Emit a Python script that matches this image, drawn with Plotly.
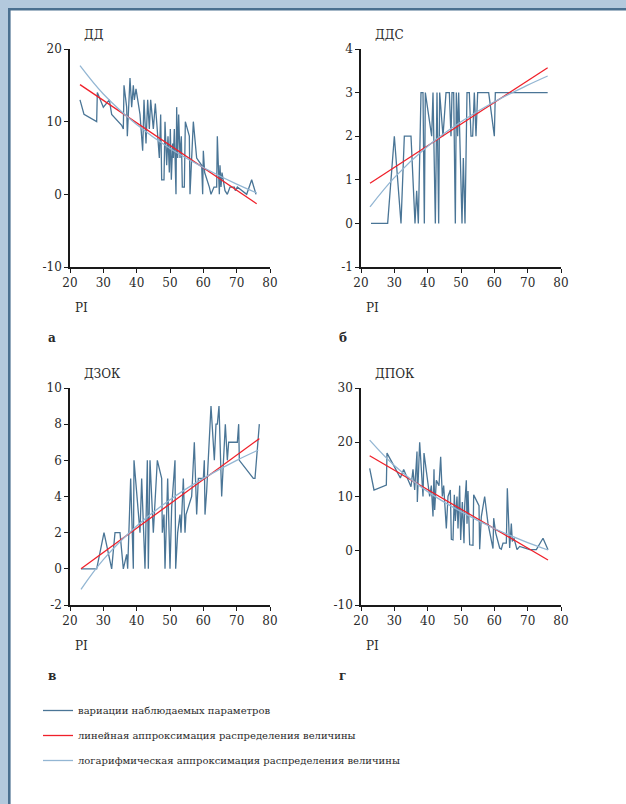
import plotly.graph_objects as go

# ---------------- data ----------------
panel_titles = ["ДД", "ДДС", "ДЗОК", "ДПОК"]
panel_letters = ["а", "б", "в", "г"]
x_title = "PI"
legend_names = ["вариации наблюдаемых параметров",
                "линейная аппроксимация распределения величины",
                "логарифмическая аппроксимация распределения величины"]

# ДД
a_pi = [23, 24.2, 28, 28.2, 30, 31.8, 32.5, 35.5, 36, 36.2,
        37, 37.2, 38, 38.5, 39, 39.3, 39.8, 41, 41.8, 42.2,
        42.8, 43.3, 43.8, 44.2, 45, 45.6, 46.8, 47.2, 47.5, 48.2,
        48.5, 49, 49.4, 49.8, 50.1, 50.4, 50.8, 51, 51.3, 51.8,
        52, 52.3, 52.6, 53, 53.4, 53.7, 54.3, 54.6, 55.8, 56,
        57, 57.6, 58, 59.5, 59.8, 60, 60.4, 61.8, 62.3, 63.2,
        64, 64.2, 64.8, 65, 65.3, 65.6, 66, 66.5, 67.2, 68,
        69.3, 69.6, 70.2, 73, 74.5, 75.8]
a_val = [13, 11, 10, 14, 12, 13, 11, 9.5, 9, 15,
         12, 8, 16, 12, 15, 13, 14.5, 11, 6, 13,
         7, 13, 9, 13, 9, 12.5, 5, 11, 2, 2,
         10, 4, 8, 3, 9, 2, 7, 5, 9, 0,
         12, 5, 11, 5, 8, 1, 1, 10, 8, 0,
         10, 7, 5, 4, 0, 6, 3, 1, 0, 1,
         1, 8, 0, 4, 1, 3, 2, 0.5, 0, 1,
         1, 0.5, 1, 0, 2, 0]
a_lin_x = [23, 76]
a_lin_y = [15.1, -1.3]
a_log_x = [23, 30, 40, 50, 60, 70, 76]
a_log_y = [17.7, 13.8, 9.6, 6.3, 3.7, 1.4, 0.2]

# ДДС
b_pi = [23, 28, 30, 32, 33, 35, 36.2, 36.7, 37.2, 38,
        38.6, 39, 39.3, 41.2, 41.6, 42.3, 42.8, 43.3, 43.6, 44.6,
        45.5, 46.5, 47, 47.3, 47.8, 48.3, 48.6, 49, 49.3, 49.7,
        50.3, 50.7, 51.2, 51.8, 52.5, 53, 53.5, 54, 54.5, 55,
        58.3, 60, 60.3, 76]
b_val = [0, 0, 2, 0, 2, 2, 0, 0.75, 0, 3,
         3, 0, 3, 2, 3, 0, 3, 0, 3, 2,
         3, 3, 2, 3, 3, 0, 3, 2, 3, 2,
         0, 1.5, 0, 3, 3, 2, 2, 3, 2, 3,
         3, 2, 3, 3]
b_lin_x = [22.7, 76]
b_lin_y = [0.92, 3.57]
b_log_x = [22.7, 30, 40, 50, 60, 70, 76]
b_log_y = [0.38, 1.05, 1.77, 2.33, 2.79, 3.17, 3.38]

# ДЗОК
c_pi = [23.3, 28, 30.2, 32.5, 33.5, 35, 36, 37, 37.3, 38.2,
        39, 39.2, 41, 41.5, 42.5, 43.2, 43.5, 44, 45, 46.2,
        47.5, 47.7, 48.2, 48.5, 49.3, 50, 50.5, 51.5, 51.7, 52.3,
        53, 53.3, 54, 54.5, 54.8, 56.5, 57.3, 58, 58.5, 60,
        60.3, 60.5, 61, 62.3, 63.3, 63.8, 64.2, 64.7, 65.5, 66.6,
        67.2, 67.6, 70.2, 70.6, 70.8, 75, 75.5, 76.5, 76.8]
c_val = [0, 0, 2, 0, 2, 2, 0, 0.8, 0, 5,
         0, 6, 2, 5, 0, 6, 0, 6, 2, 6,
         5, 2, 3, 0, 5, 0, 3.4, 6, 0, 2,
         3, 2, 5, 2, 3, 4, 7, 3, 5, 5,
         6, 3, 4.3, 9, 6, 8, 8, 9, 4, 8,
         6, 7, 7, 8, 6, 5, 5, 7, 8]
c_lin_x = [23.3, 76.8]
c_lin_y = [0, 7.2]
c_log_x = [23.3, 30, 40, 50, 60, 70, 76.5]
c_log_y = [-1.13, 0.51, 2.37, 3.82, 5.0, 6.0, 6.57]

# ДПОК
d_pi = [22.6, 23.9, 27.6, 27.8, 30, 31.8, 32.8, 35, 35.6, 36.1,
        36.8, 36.9, 37.6, 38.6, 38.9, 40.6, 41.1, 41.6, 41.9, 42.1,
        42.6, 43.4, 43.9, 44.4, 44.8, 45.6, 46.1, 46.8, 47.1, 47.6,
        48, 48.3, 48.8, 49.1, 49.6, 49.9, 50.4, 50.9, 51.1, 51.6,
        51.8, 52.1, 52.6, 53.6, 53.8, 55.4, 55.6, 56.1, 57.1, 58.1,
        59.6, 59.8, 60.4, 61.6, 62.1, 62.6, 63.6, 63.9, 64.6, 65.1,
        65.4, 65.9, 66.8, 67.6, 70.6, 72.6, 74.6, 76.1]
d_val = [15.2, 11.2, 12.1, 18, 15.5, 13.4, 15, 11.8, 15, 11.2,
         18.3, 9, 20, 10, 18, 10, 12, 6.3, 15, 7.5,
         13, 12, 17.3, 10, 12, 4.1, 10, 11.2, 2.1, 2,
         10.3, 5.5, 10, 4.1, 12, 2, 9, 1.4, 8.2, 13,
         5, 11, 1.1, 1, 10.3, 8.3, 0.3, 6.3, 10, 5,
         0.4, 6, 3.3, 0.5, 0.3, 1.4, 1.4, 11.5, 0.5, 5,
         1.7, 2.3, 0.2, 0.8, 0.2, 0.2, 2.3, 0.2]
d_lin_x = [22.6, 76.1]
d_lin_y = [17.5, -1.7]
d_log_x = [22.6, 30, 40, 50, 60, 70, 76.1]
d_log_y = [20.4, 15.7, 10.9, 7.2, 4.1, 1.5, 0.14]

x_ticks = [20, 30, 40, 50, 60, 70, 80]
y_ticks = [[-10, 0, 10, 20], [-1, 0, 1, 2, 3, 4], [-2, 0, 2, 4, 6, 8, 10], [-10, 0, 10, 20, 30]]
y_ranges = [[-10, 20], [-1, 4], [-2, 10], [-10, 30]]

# ---------------- styling / layout ----------------
W, H = 626, 804
C_OBS = "#4a7596"
C_LIN = "#f0202a"
C_LOG = "#93b6d3"
FONT = "DejaVu Serif"
TXT = "#2a2a2a"

def px(x):
    return x / W

def py(y):
    return 1 - y / H

# plot area boxes in pixels: (x0, x1, ytop, ybottom)
boxes = [(70, 270, 49, 267), (361, 561, 49, 267), (70, 270, 388, 605), (361, 561, 388, 605)]

series = [
    (a_pi, a_val, a_lin_x, a_lin_y, a_log_x, a_log_y),
    (b_pi, b_val, b_lin_x, b_lin_y, b_log_x, b_log_y),
    (c_pi, c_val, c_lin_x, c_lin_y, c_log_x, c_log_y),
    (d_pi, d_val, d_lin_x, d_lin_y, d_log_x, d_log_y),
]

fig = go.Figure()
layout_axes = {}
annotations = []
for i, (box, s) in enumerate(zip(boxes, series)):
    n = "" if i == 0 else str(i + 1)
    xa, ya = "x" + n, "y" + n
    x0, x1, yt, yb = box
    show = (i == 0)
    fig.add_trace(go.Scatter(x=s[0], y=s[1], mode="lines", xaxis=xa, yaxis=ya,
                             line=dict(color=C_OBS, width=1.3), name=legend_names[0],
                             legendgroup="g1", showlegend=show))
    fig.add_trace(go.Scatter(x=s[2], y=s[3], mode="lines", xaxis=xa, yaxis=ya,
                             line=dict(color=C_LIN, width=1.3), name=legend_names[1],
                             legendgroup="g2", showlegend=show))
    fig.add_trace(go.Scatter(x=s[4], y=s[5], mode="lines", xaxis=xa, yaxis=ya,
                             line=dict(color=C_LOG, width=1.3, shape="spline"), name=legend_names[2],
                             legendgroup="g3", showlegend=show))
    common = dict(showgrid=False, zeroline=False, showline=True, linecolor="#1a1a1a", linewidth=1.5,
                  ticks="outside", ticklen=4, tickwidth=1.2, tickcolor="#1a1a1a",
                  tickfont=dict(family=FONT, size=12, color=TXT), automargin=False)
    layout_axes["xaxis" + n] = dict(common, domain=[px(x0), px(x1)], range=[20, 80],
                                    tickvals=x_ticks, ticktext=[str(v) for v in x_ticks],
                                    anchor=ya)
    layout_axes["yaxis" + n] = dict(common, domain=[py(yb), py(yt)], range=y_ranges[i],
                                    tickvals=y_ticks[i], ticktext=[str(v) for v in y_ticks[i]],
                                    anchor=xa)
    annotations.append(dict(text=panel_titles[i], x=px(x0 + 12), y=py(yt - 14), xref="paper", yref="paper",
                            xanchor="left", yanchor="middle", showarrow=False,
                            font=dict(family=FONT, size=12, color=TXT)))
    annotations.append(dict(text=x_title, x=px(x0 + 3), y=py(yb + 41), xref="paper", yref="paper",
                            xanchor="left", yanchor="middle", showarrow=False,
                            font=dict(family=FONT, size=12, color=TXT)))
    annotations.append(dict(text="<b>" + panel_letters[i] + "</b>", x=px(x0 - 24), y=py(yb + 71), xref="paper",
                            yref="paper", xanchor="left", yanchor="middle", showarrow=False,
                            font=dict(family=FONT, size=12, color=TXT)))

FRAME = 9.3
shapes = [
    dict(type="rect", xref="paper", yref="paper", x0=px(FRAME), x1=1, y0=0, y1=py(FRAME),
         fillcolor="white", line=dict(width=0), layer="below"),
    dict(type="line", xref="paper", yref="paper", x0=px(FRAME), x1=px(FRAME), y0=0, y1=py(FRAME - 1.3),
         line=dict(color="#4a7090", width=2.6), layer="below"),
    dict(type="line", xref="paper", yref="paper", x0=px(FRAME - 1.3), x1=1, y0=py(FRAME), y1=py(FRAME),
         line=dict(color="#4a7090", width=2.6), layer="below"),
]

fig.update_layout(
    width=W, height=H,
    margin=dict(l=0, r=0, t=0, b=0, pad=0, autoexpand=False),
    paper_bgcolor="#b3c9dd",
    plot_bgcolor="rgba(0,0,0,0)",
    showlegend=True,
    legend=dict(x=px(38), y=py(696), xanchor="left", yanchor="top",
                font=dict(family=FONT, size=10, color=TXT),
                bgcolor="rgba(0,0,0,0)", itemwidth=30, tracegroupgap=6),
    annotations=annotations,
    shapes=shapes,
    **layout_axes,
)

fig.write_html(
    "out.html",
    config={"displayModeBar": False},
    post_script="document.body.style.margin='0';document.body.style.padding='0';"
                "document.documentElement.style.overflow='hidden';document.body.style.overflow='hidden';",
)
